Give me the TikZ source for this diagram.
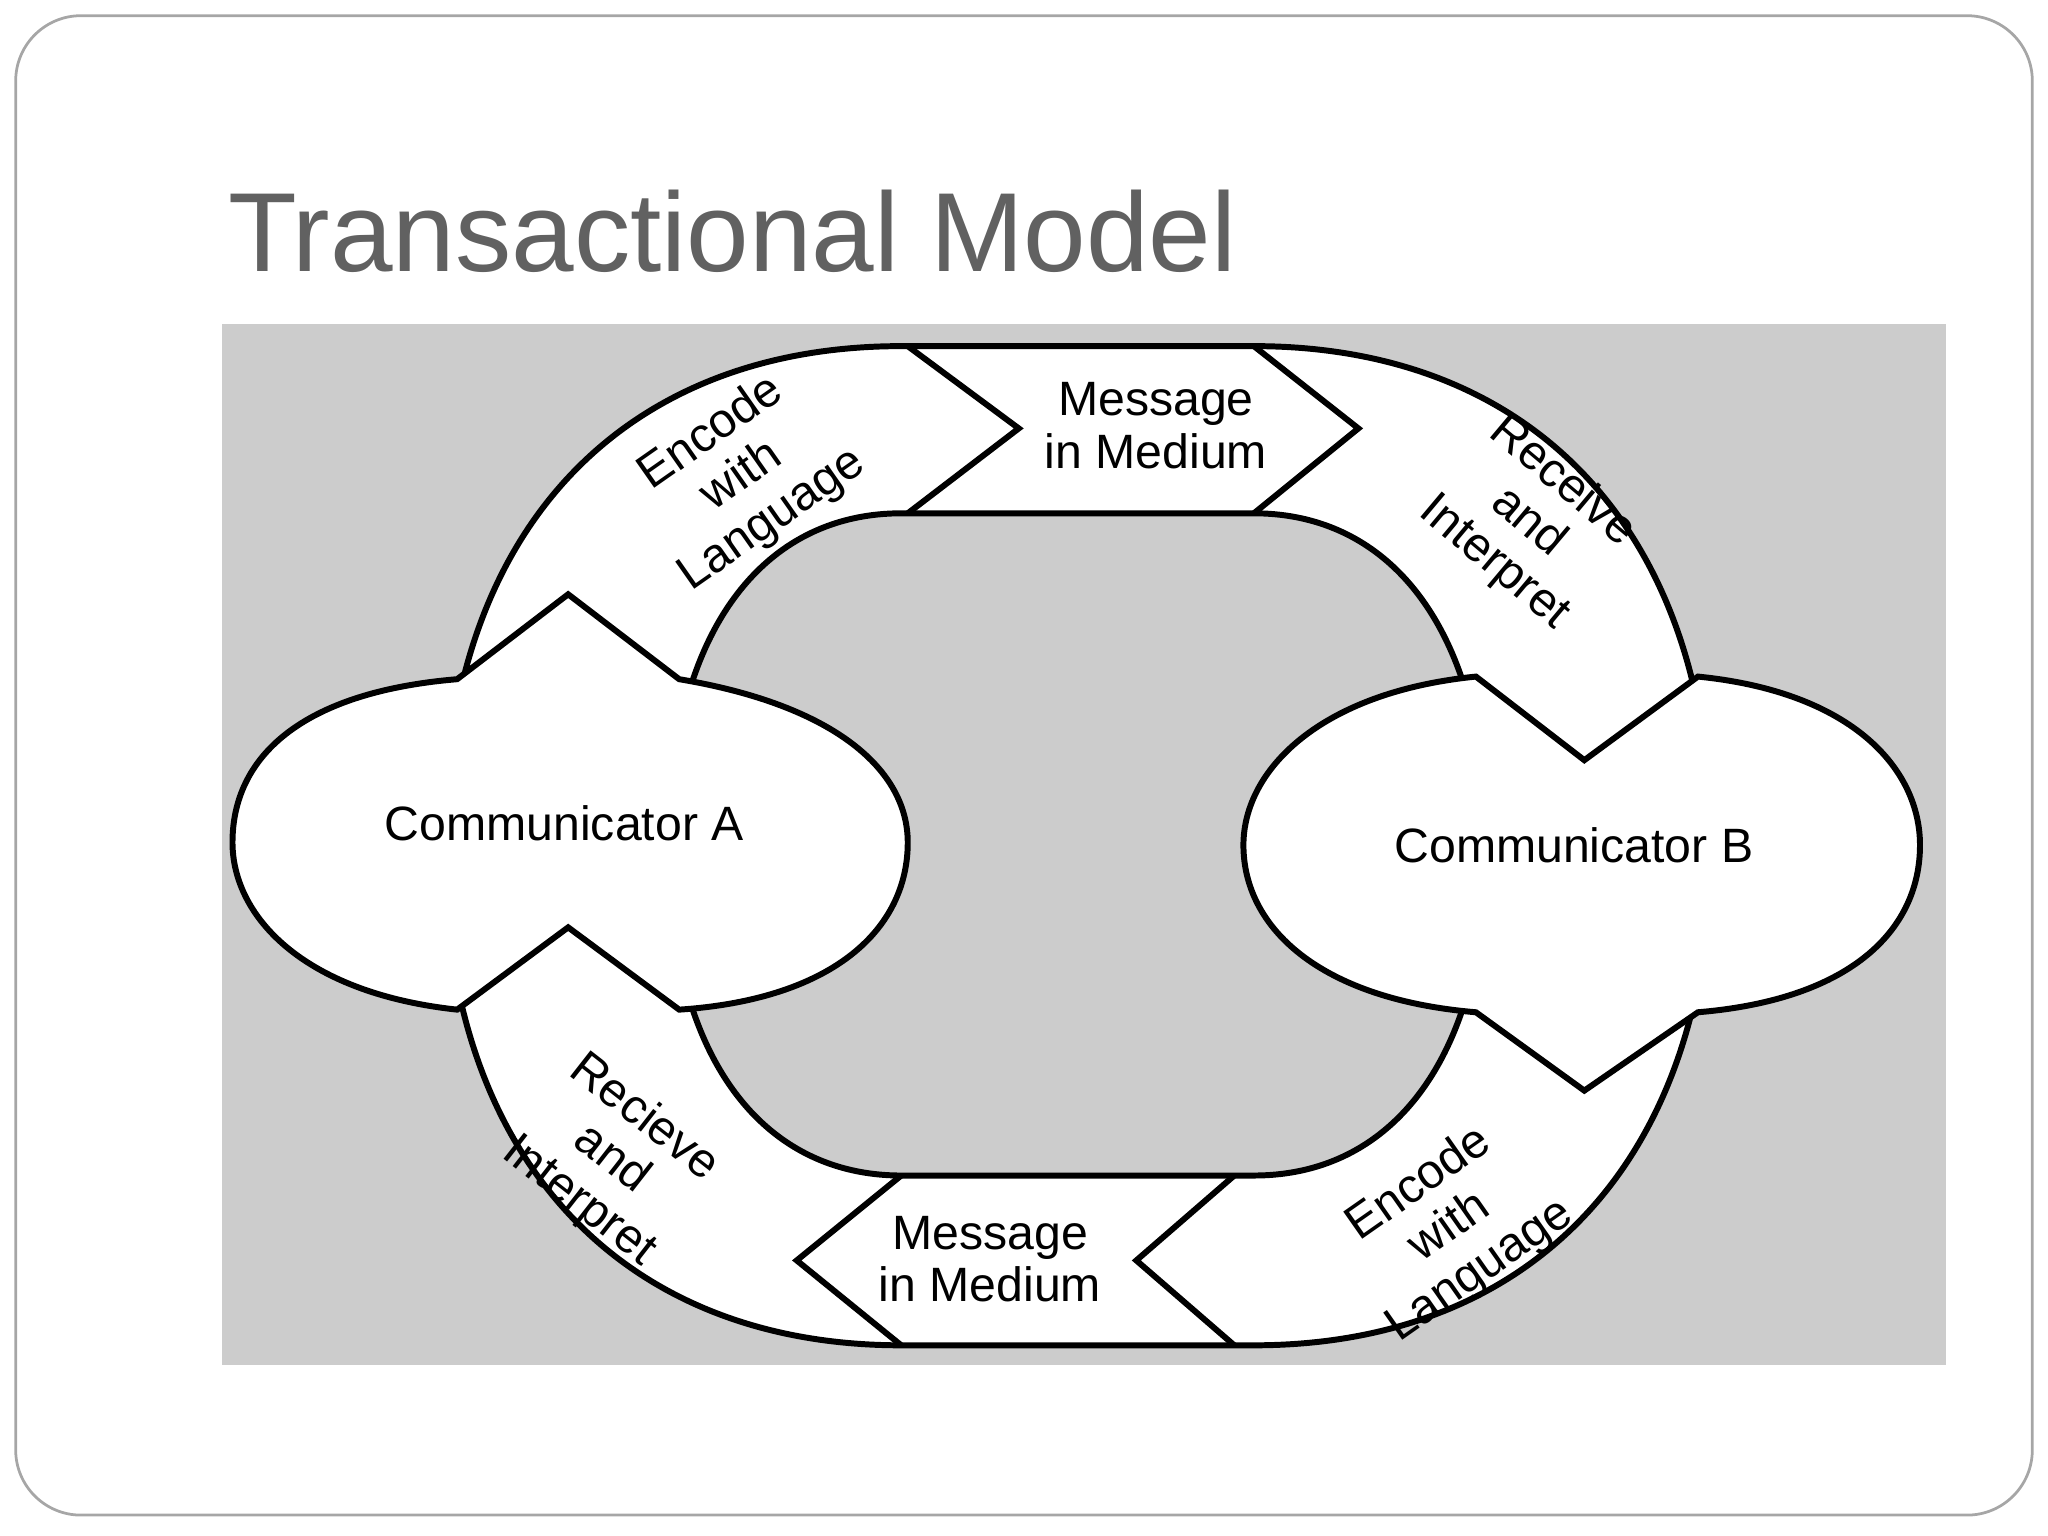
\documentclass[tikz,border=0pt]{standalone}
\usepackage{fontspec}
\setmainfont{Liberation Sans}
\usetikzlibrary{positioning}
\definecolor{clback}{gray}{0.80}
\definecolor{cltitle}{gray}{0.38}
\tikzstyle{band} = [draw, line width=1.3pt, fill=white, even odd rule]
\tikzstyle{edge} = [draw, line width=1.3pt, line join=miter]
\tikzstyle{label} = [align=center, inner sep=1pt, font=\fontsize{10.5}{11.5}\selectfont]
\begin{document}
\begin{tikzpicture}[x=0.1mm, y=-0.1mm]
    \useasboundingbox (0,0) rectangle (1568,1176);
    \draw [gray!70, line width=0.6pt, rounded corners=5mm] (12,12) rectangle (1556,1160);
    \node [anchor=base west, text=cltitle, font=\fontsize{24.5}{28}\selectfont, inner sep=0] (title) at (174,208) {Transactional Model};
    \fill [clback] (170,248) rectangle (1490,1045);

    % the ring
    \path [band] (690,265) -- (960,265) .. controls (1177,265) and (1310,410) .. (1310,647)
        .. controls (1310,884) and (1177,1030) .. (960,1030) -- (690,1030)
        .. controls (473,1030) and (340,884) .. (340,647) .. controls (340,410) and (473,265) .. (690,265)
        (690,393) -- (960,393) .. controls (1070,393) and (1138,490) .. (1138,647)
        .. controls (1138,804) and (1070,900) .. (960,900) -- (690,900)
        .. controls (580,900) and (512,804) .. (512,647) .. controls (512,490) and (580,393) .. (690,393);
    \path [edge] (695,265) -- (780,328) -- (695,393);
    \path [edge] (960,265) -- (1040,328) -- (960,393);
    \path [edge] (690,900) -- (610,965) -- (690,1030);
    \path [edge] (945,900) -- (870,965) -- (945,1030);

    % communicators
    \path [band] (350,520) -- (435,455) -- (520,520) .. controls (640,540) and (695,590) .. (695,645)
        .. controls (695,710) and (640,765) .. (520,773) -- (435,710) -- (350,773)
        .. controls (230,760) and (178,700) .. (178,645) .. controls (178,580) and (230,530) .. (350,520) -- cycle;
    \path [band] (1130,518) -- (1213,582) -- (1300,518) .. controls (1420,530) and (1470,590) .. (1470,647)
        .. controls (1470,710) and (1420,765) .. (1300,775) -- (1213,835) -- (1130,775)
        .. controls (1010,765) and (952,710) .. (952,647) .. controls (952,590) and (1010,530) .. (1130,518) -- cycle;

    \node [label] (comA) at (432,630) {Communicator A};
    \node [label] (comB) at (1205,647) {Communicator B};
    \node [label] (msgtop) at (885,326) {Message\\in Medium};
    \node [label] (msgbot) at (758,964) {Message\\in Medium};
    \node [label, rotate=35] (encA) at (568,365) {Encode\\with\\Language};
    \node [label, rotate=-40] (recB) at (1170,400) {Receive\\and\\Interpret};
    \node [label, rotate=-38] (recA) at (468,888) {Recieve\\and\\Interpret};
    \node [label, rotate=35] (encB) at (1110,940) {Encode\\with\\Language};
\end{tikzpicture}
\end{document}
